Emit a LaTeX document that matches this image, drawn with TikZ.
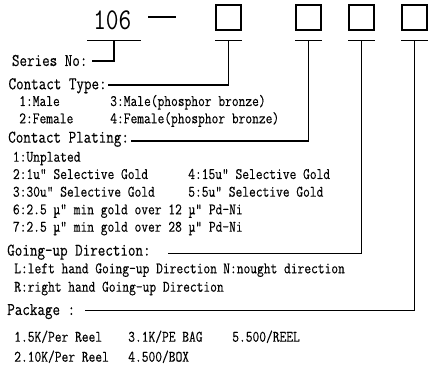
\documentclass[tikz,border=0pt]{standalone}
\usepackage{fontspec}
\newfontfamily\labfont[FakeStretch=0.82, FakeBold=0.25]{Latin Modern Mono}
\newfontfamily\numfont[FakeStretch=0.82]{Latin Modern Mono}
\usetikzlibrary{positioning, calc}

\begin{document}
\begin{tikzpicture}[x=0.75pt, y=-0.75pt,
    slot/.style={draw, line width=1.2pt, minimum size=19pt, inner sep=0pt},
    head/.style={font=\labfont\fontsize{13.4}{15}\selectfont, anchor=base west, inner sep=0pt},
    item/.style={font=\labfont\fontsize{12}{14}\selectfont, anchor=base west, inner sep=0pt},
    lead/.style={line width=1.1pt}]
  \useasboundingbox (0,0) rectangle (439,373);

  % Part number
  \node[font=\numfont\fontsize{22.6}{26}\selectfont, anchor=base west, inner sep=0pt] (num) at (93,30) {106};
  \node[inner sep=0pt] (dash) at (162,16.7) {\rule{21pt}{1.3pt}};
  \node[slot] (b1) at (228.5,17.5) {};
  \node[slot] (b2) at (308.5,17.5) {};
  \node[slot] (b3) at (361.5,17.5) {};
  \node[slot] (b4) at (414.5,17.5) {};

  % Bars under the fields
  \coordinate (bar) at (0,40.7);
  \coordinate (t0) at (114,40.7);
  \draw[lead] (87,40.7) -- (141,40.7);
  \foreach \b in {b1,b2,b3,b4}
    \draw[lead] (\b.west |- bar) -- (\b.east |- bar);

  % Series
  \node[head] (sno) at (11.7,66) {Series No:};

  % Contact type
  \node[head] (ctype) at (8.3,89.3) {Contact Type:};
  \node[item] (m1) at (19,106) {1:Male};
  \node[item] (m3) at (110,106) {3:Male(phosphor bronze)};
  \node[item] (m2) at (19,123.3) {2:Female};
  \node[item] (m4) at (110,123.3) {4:Female(phosphor bronze)};

  % Contact plating
  \node[head] (plate) at (8,142.7) {Contact Plating:};
  \node[item] (p1) at (12.7,161.7) {1:Unplated};
  \node[item] (p2) at (12.7,179) {2:1u" Selective Gold};
  \node[item] (p4) at (188,179) {4:15u" Selective Gold};
  \node[item] (p3) at (12.7,196.7) {3:30u" Selective Gold};
  \node[item] (p5) at (188,196.7) {5:5u" Selective Gold};
  \node[item] (p6) at (12.7,214.3) {6:2.5 µ" min gold over 12 µ" Pd-Ni};
  \node[item] (p7) at (12.7,231.7) {7:2.5 µ" min gold over 28 µ" Pd-Ni};

  % Going-up direction
  \node[head] (dir) at (7,255.7) {Going-up Direction:};
  \node[item] (dl) at (14,273.3) {L:left hand Going-up Direction};
  \node[item] (dn) at (223,273.3) {N:nought direction};
  \node[item] (dr) at (14,291.7) {R:right hand Going-up Direction};

  % Package
  \node[head] (pkg) at (7,315) {Package :};
  \node[item] (k1) at (14,341.7) {1.5K/Per Reel};
  \node[item] (k3) at (128,341.7) {3.1K/PE BAG};
  \node[item] (k5) at (232,341.7) {5.500/REEL};
  \node[item] (k2) at (14,361.7) {2.10K/Per Reel};
  \node[item] (k4) at (128,361.7) {4.500/BOX};

  % Leaders
  \draw[lead] (t0) |- ([xshift=3pt,yshift=3.7pt]sno.base east);
  \draw[lead] (b1 |- bar) |- ([xshift=1pt,yshift=3.2pt]ctype.base east);
  \draw[lead] (b2 |- bar) |- ([xshift=1.5pt,yshift=1.3pt]plate.base east);
  \draw[lead] (b3 |- bar) |- ([xshift=13pt,yshift=1.8pt]dir.base east);
  \draw[lead] (b4 |- bar) |- ([xshift=7pt,yshift=3.2pt]pkg.base east);
\end{tikzpicture}
\end{document}
